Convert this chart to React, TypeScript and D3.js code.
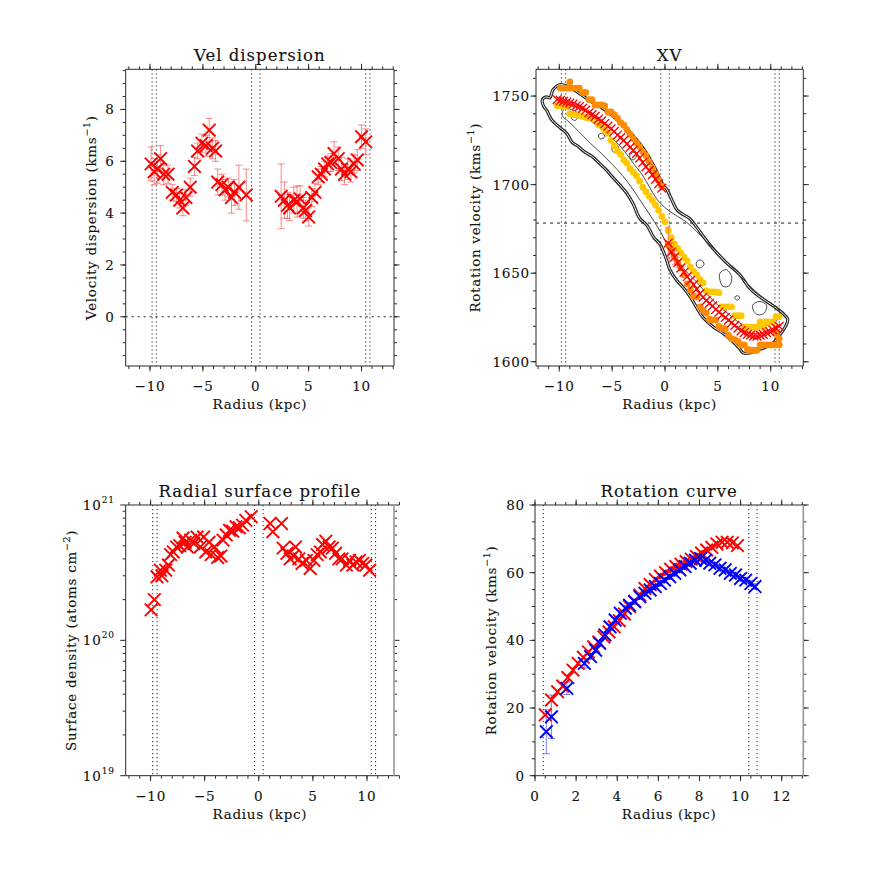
import React from 'react';
import * as d3 from 'd3';

const FONT = '"DejaVu Serif", "Liberation Serif", serif';

// ---------- Panel 1: velocity dispersion [radius kpc, sigma km/s, error] ----------
const dispLeft: number[][] = [
  [-9.9, 5.9, 0.65], [-9.6, 5.6, 0.5], [-9.3, 5.7, 0.55], [-9.0, 6.1, 0.5], [-8.7, 5.5, 0.4],
  [-8.3, 5.5, 0.35], [-7.9, 4.8, 0.3], [-7.5, 4.7, 0.25], [-7.2, 4.5, 0.3], [-6.9, 4.2, 0.3],
  [-6.6, 4.6, 0.3], [-6.2, 5.0, 0.35], [-5.8, 5.8, 0.35], [-5.5, 6.4, 0.3], [-5.1, 6.7, 0.35],
  [-4.7, 6.6, 0.4], [-4.4, 7.2, 0.45], [-4.1, 6.5, 0.4], [-3.8, 6.4, 0.4], [-3.6, 5.2, 0.5],
  [-3.2, 5.1, 0.4], [-2.9, 4.9, 0.4], [-2.6, 5.0, 0.35], [-2.3, 4.6, 0.6], [-2.0, 4.8, 0.5],
  [-1.6, 5.0, 0.85], [-0.9, 4.7, 1.0],
];
const dispRight: number[][] = [
  [2.4, 4.65, 1.25], [2.7, 4.5, 0.7], [3.0, 4.3, 0.5], [3.2, 4.2, 0.5], [3.6, 4.5, 0.5],
  [3.9, 4.45, 0.6], [4.2, 4.55, 0.5], [4.5, 4.2, 0.4], [4.7, 4.1, 0.4], [5.0, 3.85, 0.35],
  [5.3, 4.6, 0.35], [5.6, 4.8, 0.35], [5.9, 5.4, 0.3], [6.2, 5.5, 0.3], [6.5, 5.7, 0.3],
  [6.8, 5.9, 0.3], [7.1, 5.95, 0.35], [7.4, 6.3, 0.45], [7.8, 6.1, 0.45], [8.1, 5.7, 0.45],
  [8.4, 5.5, 0.4], [8.7, 5.7, 0.4], [9.0, 5.6, 0.4], [9.3, 5.9, 0.35], [9.6, 6.05, 0.4],
  [10.0, 6.95, 0.45], [10.4, 6.75, 0.5],
];

// ---------- Panel 2: XV diagram [radius kpc, velocity km/s, error] ----------
const xvRed: number[][] = [
  [-10.2, 1748, 1], [-9.9, 1747.5, 1], [-9.6, 1747, 1], [-9.3, 1746.5, 1], [-9.0, 1746, 1],
  [-8.7, 1745.5, 1], [-8.4, 1744.5, 1], [-8.1, 1744, 1], [-7.8, 1743, 1], [-7.5, 1742, 1],
  [-7.2, 1740.5, 1], [-6.9, 1739.5, 1], [-6.6, 1738.5, 1], [-6.3, 1737, 1], [-6.0, 1736, 1],
  [-5.7, 1734.5, 1], [-5.4, 1733, 1], [-5.1, 1731.5, 1], [-4.8, 1730, 1], [-4.5, 1728, 1],
  [-4.2, 1726.5, 1], [-3.9, 1725, 1], [-3.6, 1723, 1], [-3.3, 1721, 1], [-3.0, 1719.5, 1],
  [-2.7, 1717.5, 1], [-2.4, 1715, 1], [-2.1, 1712.5, 1], [-1.8, 1710, 1], [-1.5, 1708, 1],
  [-1.2, 1705.5, 1], [-0.9, 1703, 1], [-0.6, 1700.5, 1], [-0.3, 1698, 1],
  [0.3, 1667, 9], [0.6, 1662, 5], [0.9, 1659, 4], [1.2, 1656, 3], [1.5, 1653, 1.5],
  [1.8, 1650.5, 1], [2.1, 1648, 1], [2.4, 1646, 1], [2.7, 1643.5, 1], [3.0, 1641, 1],
  [3.3, 1638.5, 1], [3.6, 1636.5, 1], [3.9, 1634.5, 1], [4.2, 1633, 1], [4.5, 1631.5, 1],
  [4.8, 1629.5, 1], [5.1, 1628, 1], [5.4, 1626.5, 1], [5.7, 1625, 1], [6.0, 1623.5, 1],
  [6.3, 1622, 1], [6.6, 1620.5, 1], [6.9, 1619, 1], [7.2, 1617.5, 1], [7.5, 1616.5, 1],
  [7.8, 1615.5, 1], [8.1, 1615, 1], [8.4, 1614.5, 1], [8.7, 1614.5, 1], [9.0, 1615, 1],
  [9.3, 1615.5, 1], [9.6, 1616.5, 1], [9.9, 1617, 1], [10.2, 1618, 1], [10.5, 1619, 1],
  [10.8, 1620, 1],
];
const xvOrange: number[][] = [
  [-9.9, 1754.5], [-9.6, 1754.5], [-9.3, 1754.5], [-9.0, 1758], [-9.0, 1754.5], [-8.7, 1754.5],
  [-8.4, 1754.5], [-8.1, 1754.5], [-7.8, 1752], [-7.5, 1752], [-7.2, 1748], [-6.9, 1748],
  [-6.6, 1745], [-6.3, 1745], [-6.0, 1745], [-5.7, 1744.5], [-5.4, 1741], [-5.1, 1741],
  [-4.8, 1739.5], [-4.5, 1737.5], [-4.2, 1735], [-3.9, 1733.5], [-3.6, 1731], [-3.3, 1728.5],
  [-3.0, 1726], [-2.7, 1723.5], [-2.4, 1721.5], [-2.1, 1718.5], [-1.8, 1716.5], [-1.5, 1713],
  [-1.2, 1709.5], [-0.9, 1706], [-0.6, 1702.5], [-0.3, 1699],
  [0.3, 1666], [0.6, 1663], [0.9, 1659.5], [1.2, 1656], [1.5, 1653], [1.8, 1649],
  [2.1, 1644], [2.4, 1640.5], [2.7, 1637], [3.0, 1636.5], [3.3, 1631], [3.6, 1629],
  [3.9, 1627.5], [4.2, 1624], [4.5, 1623.5], [4.8, 1623.5], [5.1, 1620], [5.4, 1619],
  [5.7, 1618.5], [6.0, 1615], [6.3, 1613], [6.6, 1612.5], [6.9, 1611.5], [7.2, 1609.5],
  [7.5, 1609.5], [7.8, 1607], [8.1, 1606.5], [8.4, 1606.5], [8.7, 1606.5], [9.0, 1609.5],
  [9.3, 1609.5], [9.6, 1609.5], [9.9, 1609.5], [10.2, 1609.5], [10.5, 1609.5], [10.8, 1609.5],
  [10.5, 1616], [10.8, 1613],
];
const xvYellow: number[][] = [
  [-10.2, 1744.5], [-9.9, 1744.5], [-9.6, 1744.5], [-9.3, 1744], [-9.0, 1740], [-8.7, 1739.5],
  [-8.4, 1739.5], [-8.1, 1739], [-7.8, 1738.5], [-7.5, 1738], [-7.2, 1737.5], [-6.9, 1737.5],
  [-6.6, 1736.5], [-6.3, 1734], [-6.0, 1733], [-5.7, 1731], [-5.4, 1729], [-5.1, 1725],
  [-4.8, 1722], [-4.5, 1719], [-4.2, 1717], [-3.9, 1714], [-3.6, 1712], [-3.3, 1709],
  [-3.0, 1707], [-2.7, 1705], [-2.4, 1702], [-2.1, 1698.5], [-1.8, 1696], [-1.5, 1693.5],
  [-1.2, 1691], [-0.9, 1688.5], [-0.6, 1685.5], [-0.3, 1682], [0.0, 1679],
  [0.3, 1674], [0.6, 1670], [0.9, 1666.5], [1.2, 1664], [1.5, 1661.5], [1.8, 1659],
  [2.1, 1657], [2.4, 1653.5], [2.7, 1651], [3.0, 1649], [3.3, 1646.5], [3.6, 1644.5],
  [3.9, 1640], [4.2, 1639.5], [4.5, 1639.5], [4.8, 1639.5], [5.1, 1639], [5.4, 1631],
  [5.7, 1631], [6.0, 1631], [6.3, 1631], [6.6, 1626], [6.9, 1626], [7.2, 1626],
  [7.5, 1619.5], [7.8, 1619.5], [8.1, 1619.5], [8.4, 1619.5], [8.7, 1619.5], [9.0, 1622.5],
  [9.3, 1619.5], [9.6, 1622.5], [9.9, 1622.5], [10.2, 1622.5], [10.5, 1625.5], [10.8, 1625.5],
];
const contourOuter: number[][] = [
  [-10.6, 1753.5], [-10.25, 1755.5], [-9.9, 1756.5], [-9.0, 1755], [-8.0, 1751], [-7.0, 1747],
  [-6.0, 1743.5], [-5.0, 1739], [-4.0, 1734], [-3.0, 1727.5], [-2.0, 1720], [-1.0, 1710],
  [-0.3, 1701], [0.2, 1697], [0.6, 1692], [1.1, 1686], [1.6, 1683.5], [2.3, 1681],
  [3.0, 1676], [3.6, 1671], [4.6, 1663.5], [5.8, 1656], [7.1, 1649], [8.0, 1641.5],
  [9.0, 1636.5], [10.25, 1631.5], [11.2, 1627], [11.6, 1624], [11.4, 1620], [10.9, 1615.5],
  [10.2, 1610.5], [9.6, 1608.5], [8.7, 1606.5], [8.0, 1605], [7.4, 1605], [7.1, 1607],
  [6.5, 1611], [5.5, 1616], [4.6, 1619.5], [3.6, 1625], [3.0, 1630.5], [2.4, 1636.5],
  [1.7, 1642], [1.1, 1646], [0.5, 1651.5], [0.0, 1660], [-0.5, 1666.5], [-1.1, 1670.5],
  [-1.7, 1677], [-2.4, 1681], [-3.0, 1689], [-3.6, 1695], [-4.3, 1700], [-5.0, 1704.5],
  [-5.5, 1708], [-6.2, 1712], [-6.8, 1715.5], [-7.6, 1718.5], [-8.2, 1721.5], [-8.8, 1724],
  [-9.3, 1729], [-9.9, 1732], [-10.7, 1736.5], [-11.2, 1742], [-11.5, 1744.5], [-11.6, 1748],
  [-11.2, 1749.5], [-10.9, 1749],
];
const contourMid: number[][] = [
  [-9.5, 1743], [-8.0, 1740], [-6.8, 1735], [-5.8, 1730], [-4.6, 1724], [-3.6, 1717],
  [-3.0, 1712], [-2.2, 1706], [-1.5, 1699], [-0.8, 1692], [0.2, 1686], [1.2, 1682],
  [2.0, 1679], [3.0, 1673.5], [4.0, 1667.5], [5.0, 1661.5], [6.0, 1655.5], [7.0, 1649],
  [8.0, 1643], [9.0, 1637.5], [10.0, 1633], [10.8, 1629], [10.8, 1625], [10.3, 1622],
  [9.5, 1620.5], [8.5, 1619], [7.6, 1620], [6.8, 1623], [6.0, 1627], [5.0, 1632],
  [4.0, 1638], [3.0, 1645], [2.0, 1651], [1.0, 1658], [0.3, 1665], [-0.3, 1672],
  [-1.0, 1679], [-2.0, 1688], [-3.0, 1697], [-4.0, 1705], [-5.0, 1711.5], [-6.0, 1717.5],
  [-7.0, 1723], [-8.0, 1729], [-9.0, 1735], [-9.7, 1739],
];
const contourBlobs: number[][][] = [
  [[-8.8, 1739.5], [-8.4, 1740.2], [-8.25, 1738], [-8.5, 1736.3], [-8.8, 1737]],
  [[-5.0, 1721], [-4.6, 1722.5], [-4.35, 1720], [-4.6, 1718], [-4.95, 1718.8]],
  [[-3.3, 1717], [-2.9, 1718.2], [-2.7, 1716], [-3.0, 1714], [-3.3, 1715]],
  [[-6.3, 1728], [-5.9, 1729], [-5.7, 1727], [-6.1, 1725.8]],
  [[3.0, 1656.5], [3.4, 1657.5], [3.7, 1655], [3.3, 1653], [3.0, 1654]],
  [[5.2, 1650], [5.8, 1652], [6.3, 1648], [6.1, 1643], [5.5, 1642.5], [5.2, 1646]],
  [[8.3, 1632], [8.9, 1634], [9.6, 1632], [9.4, 1627.5], [8.8, 1626.5], [8.4, 1628.5]],
  [[6.6, 1636.5], [6.9, 1637.3], [7.05, 1635.8], [6.8, 1634.8]],
];
const systemicVel = 1678.3;

// ---------- Panel 3: radial surface profile [radius kpc, column density] ----------
const surfLeft: number[][] = [
  [-9.95, 1.68e20], [-9.65, 2.0e20], [-9.4, 2.95e20], [-9.1, 3.3e20], [-8.95, 3.0e20],
  [-8.6, 3.3e20], [-8.35, 3.6e20], [-8.15, 4.3e20], [-7.9, 4.5e20], [-7.6, 4.9e20],
  [-7.3, 5.0e20], [-7.0, 5.7e20], [-6.8, 5.3e20], [-6.6, 4.9e20], [-6.3, 5.5e20],
  [-6.0, 5.2e20], [-5.7, 5.8e20], [-5.4, 4.9e20], [-5.1, 5.8e20], [-4.9, 4.5e20],
  [-4.6, 5.3e20], [-4.4, 4.3e20], [-4.1, 4.9e20], [-3.8, 4.1e20], [-3.5, 4.2e20],
  [-3.3, 5.5e20], [-3.0, 6.0e20], [-2.7, 6.5e20], [-2.4, 6.4e20], [-2.1, 6.9e20],
  [-1.8, 6.8e20], [-1.5, 7.1e20], [-1.2, 7.7e20], [-0.7, 8.2e20],
];
const surfRight: number[][] = [
  [1.05, 7.3e20], [1.3, 6.35e20], [2.1, 7.3e20], [2.25, 4.8e20], [2.6, 4.4e20],
  [2.9, 4.0e20], [3.2, 4.2e20], [3.4, 4.9e20], [3.7, 4.0e20], [4.0, 3.7e20],
  [4.4, 3.9e20], [4.75, 3.4e20], [5.1, 3.9e20], [5.4, 4.3e20], [5.7, 4.5e20],
  [5.9, 5.1e20], [6.2, 5.4e20], [6.5, 4.9e20], [6.8, 4.8e20], [7.1, 4.4e20],
  [7.4, 4.0e20], [7.7, 4.0e20], [8.1, 3.6e20], [8.4, 3.9e20], [8.7, 3.6e20],
  [9.0, 3.8e20], [9.3, 3.9e20], [9.6, 3.7e20], [9.9, 3.6e20], [10.25, 3.3e20],
];

// ---------- Panel 4: rotation curve [radius kpc, velocity, error] ----------
const rotRed: number[][] = [
  [0.5, 18], [0.8, 22.4], [1.1, 24.8], [1.35, 26.5], [1.6, 29], [1.85, 31.2], [2.1, 33.2],
  [2.35, 35], [2.6, 36.6], [2.85, 38.1], [3.1, 39.5], [3.35, 41], [3.6, 42.5], [3.85, 44],
  [4.1, 45.8], [4.35, 47.8], [4.6, 50], [4.85, 51.6], [5.1, 53.4], [5.35, 55.3], [5.6, 56.5],
  [5.85, 58], [6.1, 59], [6.35, 60], [6.6, 61], [6.85, 61.8], [7.1, 62.5], [7.35, 63.3],
  [7.6, 64], [7.85, 64.8], [8.1, 65.8], [8.35, 66.7], [8.6, 67.5], [8.85, 68.5], [9.1, 69],
  [9.35, 69], [9.6, 68.8], [9.85, 68],
];
const rotBlue: number[][] = [
  [0.55, 13.0, 6.5], [0.8, 17.4, 6.4], [1.55, 25.8, 1.8], [2.4, 33.2, 1.4], [2.7, 35.2, 0.8],
  [2.95, 37.1, 0.8], [3.15, 39.1, 0.8], [3.4, 41.6, 0.8], [3.65, 44, 0.8], [3.9, 46, 0.8],
  [4.15, 48, 0.8], [4.4, 49.5, 0.8], [4.6, 50.4, 0.8], [4.85, 51.4, 0.8], [5.1, 52.9, 0.8],
  [5.35, 53.9, 0.8], [5.6, 54.9, 0.8], [5.85, 55.9, 0.8], [6.1, 56.8, 0.8], [6.3, 57.8, 0.8],
  [6.55, 58.8, 0.8], [6.8, 59.8, 0.8], [7.05, 60.8, 0.8], [7.3, 61.8, 0.8], [7.55, 62.8, 0.8],
  [7.8, 63.7, 0.8], [8.05, 64.2, 0.8], [8.3, 63.7, 0.8], [8.5, 62.8, 0.8], [8.75, 62.3, 0.8],
  [9.0, 61.3, 0.8], [9.25, 60.8, 0.8], [9.5, 59.8, 0.8], [9.75, 59.3, 0.8], [10.0, 58.3, 0.8],
  [10.25, 57.8, 0.8], [10.5, 56.8, 0.8], [10.7, 55.9, 0.8],
];

// reference radii (dotted lines)
const edgeLines = [-9.8, -9.4, -0.4, 0.4, 10.4, 10.8];
const rcEdgeLines = [0.4, 10.4, 10.8];

// tick values
const xTicksSym = [-10, -5, 0, 5, 10];
const yTicksDisp = [0, 2, 4, 6, 8];
const yTicksXV = [1600, 1650, 1700, 1750];
const yTicksSurf = [1e19, 1e20, 1e21];
const xTicksRC = [0, 2, 4, 6, 8, 10, 12];
const yTicksRC = [0, 20, 40, 60, 80];

const fmt = (d: number) => (d < 0 ? '\u2212' + Math.abs(d) : String(d));
const AX = '#2a2a2a';
const TXT_STROKE = 0.12;

type Box = { l: number; r: number; t: number; b: number };

function Cross({ x, y, s, color, w }: any) {
  return (
    <path
      d={`M${x - s},${y - s}L${x + s},${y + s}M${x - s},${y + s}L${x + s},${y - s}`}
      stroke={color}
      strokeWidth={w}
      fill="none"
    />
  );
}

function ErrBar({ x, y0, y1, color, cap }: any) {
  return (
    <g stroke={color} strokeWidth={1} fill="none">
      <line x1={x} x2={x} y1={y0} y2={y1} />
      <line x1={x - cap} x2={x + cap} y1={y0} y2={y0} />
      <line x1={x - cap} x2={x + cap} y1={y1} y2={y1} />
    </g>
  );
}

function Frame({ box, x, y, xMajor, xMinor, yMajor, yMinor, yLabelFn, labelGap, rightColor, title, yLabel, yLabelX }: any) {
  const M = 5.5, m = 3;
  const els: any[] = [];
  xMinor.forEach((v: number, i: number) => {
    const px = x(v);
    els.push(<line key={'xb' + i} x1={px} x2={px} y1={box.b} y2={box.b + m} />);
    els.push(<line key={'xt' + i} x1={px} x2={px} y1={box.t} y2={box.t - m} />);
  });
  xMajor.forEach((v: number, i: number) => {
    const px = x(v);
    els.push(<line key={'Xb' + i} x1={px} x2={px} y1={box.b} y2={box.b + M} />);
    els.push(<line key={'Xt' + i} x1={px} x2={px} y1={box.t} y2={box.t - M} />);
  });
  yMinor.forEach((v: number, i: number) => {
    const py = y(v);
    els.push(<line key={'yl' + i} x1={box.l} x2={box.l - m} y1={py} y2={py} />);
    els.push(<line key={'yr' + i} x1={box.r} x2={box.r + m} y1={py} y2={py} />);
  });
  yMajor.forEach((v: number, i: number) => {
    const py = y(v);
    els.push(<line key={'Yl' + i} x1={box.l} x2={box.l - M} y1={py} y2={py} />);
    els.push(<line key={'Yr' + i} x1={box.r} x2={box.r + M} y1={py} y2={py} />);
  });
  const cy = (box.t + box.b) / 2;
  return (
    <g fontFamily={FONT} fill="#111">
      <g stroke={AX} strokeWidth={1}>
        {els}
        <line x1={box.l} x2={box.r} y1={box.b} y2={box.b} />
        <line x1={box.l} x2={box.r} y1={box.t} y2={box.t} />
        <line x1={box.l} x2={box.l} y1={box.t} y2={box.b} />
      </g>
      <line x1={box.r} x2={box.r} y1={box.t} y2={box.b} stroke={rightColor} strokeWidth={rightColor === AX ? 1 : 1.6} />
      <g stroke="#111" strokeWidth={TXT_STROKE}>
        {xMajor.map((v: number, i: number) => (
          <text key={'xl' + i} x={x(v)} y={box.b + 25} textAnchor="middle" fontSize={13.5} letterSpacing={0.8}>
            {fmt(v)}
          </text>
        ))}
        {yMajor.map((v: number, i: number) => (
          <text key={'yl' + i} x={box.l - labelGap} y={y(v) + 5} textAnchor="end" fontSize={13.5} letterSpacing={0.8}>
            {yLabelFn(v)}
          </text>
        ))}
        <text x={(box.l + box.r) / 2} y={box.t - 8} textAnchor="middle" fontSize={16.5} letterSpacing={1}>
          {title}
        </text>
        <text x={(box.l + box.r) / 2} y={box.b + 43} textAnchor="middle" fontSize={13.5} letterSpacing={0.7}>
          Radius (kpc)
        </text>
        <text transform={`translate(${yLabelX + 5},${cy}) rotate(-90)`} textAnchor="middle" fontSize={13.5} letterSpacing={0.7}>
          {yLabel}
        </text>
      </g>
    </g>
  );
}

function VLines({ vals, x, box, dash }: any) {
  return (
    <g stroke="#222" strokeWidth={1} strokeDasharray={dash}>
      {vals.map((v: number, i: number) => (
        <line key={i} x1={x(v)} x2={x(v)} y1={box.t} y2={box.b} />
      ))}
    </g>
  );
}

export default function App() {
  // Panel boxes (layout)
  const B1: Box = { l: 125.7, r: 394, t: 69.3, b: 366 };
  const B2: Box = { l: 536, r: 803.3, t: 69.3, b: 366 };
  const B3: Box = { l: 125.7, r: 394, t: 505, b: 775.7 };
  const B4: Box = { l: 535, r: 803.3, t: 505, b: 775.7 };

  const x1 = d3.scaleLinear().domain([-12.3, 13.07]).range([B1.l, B1.r]);
  const y1 = d3.scaleLinear().domain([-1.9, 9.55]).range([B1.b, B1.t]);
  const x2 = d3.scaleLinear().domain([-12.2, 13.08]).range([B2.l, B2.r]);
  const y2 = d3.scaleLinear().domain([1597.6, 1765.1]).range([B2.b, B2.t]);
  const x3 = d3.scaleLinear().domain([-12.3, 12.5]).range([B3.l, B3.r]);
  const y3 = d3.scaleLog().domain([1e19, 1e21]).range([B3.b, B3.t]);
  const x4 = d3.scaleLinear().domain([0, 13.05]).range([B4.l, B4.r]);
  const y4 = d3.scaleLinear().domain([0, 80]).range([B4.b, B4.t]);

  const minorSym = d3.range(-12, 14, 1);
  const logMinor: number[] = [];
  [1e19, 1e20].forEach((d) => d3.range(2, 10).forEach((k) => logMinor.push(k * d)));

  const lineXV = d3
    .line<number[]>()
    .x((d) => x2(d[0]))
    .y((d) => y2(d[1]))
    .curve(d3.curveCatmullRomClosed.alpha(0.5));

  const supLabel = (base: string, sup: string, tail: string) => (
    <>
      {base}
      <tspan dy={-6} fontSize={9.5}>{sup}</tspan>
      <tspan dy={6}>{tail}</tspan>
    </>
  );

  const RED = '#ff0000';
  const RED_ERR = 'rgba(255,60,60,0.6)';
  const BLUE = '#0000ff';
  const BLUE_ERR = 'rgba(70,70,255,0.7)';
  const ORANGE = '#ff8c00';
  const YELLOW = '#ffc800';

  return (
    <svg width={872} height={872} style={{ position: 'absolute', left: 0, top: 0, background: '#fff' }}>
      <rect x={0} y={0} width={872} height={872} fill="#fff" />

      {/* ---------------- Panel 1 ---------------- */}
      <VLines vals={edgeLines} x={x1} box={B1} dash="1.2 2.8" />
      <line x1={B1.l} x2={B1.r} y1={y1(0)} y2={y1(0)} stroke="#222" strokeDasharray="2 4" />
      {[...dispLeft, ...dispRight].map((d, i) => (
        <ErrBar key={'e1' + i} x={x1(d[0])} y0={y1(d[1] - d[2])} y1={y1(d[1] + d[2])} color={RED_ERR} cap={3.5} />
      ))}
      {[...dispLeft, ...dispRight].map((d, i) => (
        <Cross key={'c1' + i} x={x1(d[0])} y={y1(d[1])} s={6.3} color={RED} w={1.9} />
      ))}
      <Frame
        box={B1} x={x1} y={y1}
        xMajor={xTicksSym} xMinor={minorSym}
        yMajor={yTicksDisp} yMinor={d3.range(-1.5, 9.6, 0.5)}
        yLabelFn={fmt} labelGap={11} rightColor={AX}
        title="Vel dispersion"
        yLabel={supLabel('Velocity dispersion (kms', '\u22121', ')')}
        yLabelX={91}
      />

      {/* ---------------- Panel 2 ---------------- */}
      <g fill="none">
        <path d={lineXV(contourOuter) || ''} stroke="#222" strokeWidth={3.2} />
        <path d={lineXV(contourOuter) || ''} stroke="#fff" strokeWidth={1.0} />
        <path d={lineXV(contourMid) || ''} stroke="#333" strokeWidth={0.9} />
        {contourBlobs.map((b, i) => (
          <path key={'b' + i} d={lineXV(b) || ''} stroke="#333" strokeWidth={0.9} />
        ))}
      </g>
      <VLines vals={edgeLines} x={x2} box={B2} dash="1.2 2.8" />
      <line x1={B2.l} x2={B2.r} y1={y2(systemicVel)} y2={y2(systemicVel)} stroke="#222" strokeDasharray="3 4" />
      {xvYellow.map((d, i) => (
        <circle key={'yd' + i} cx={x2(d[0])} cy={y2(d[1])} r={3.4} fill={YELLOW} />
      ))}
      {xvOrange.map((d, i) => (
        <circle key={'od' + i} cx={x2(d[0])} cy={y2(d[1])} r={3.4} fill={ORANGE} />
      ))}
      {xvRed.map((d, i) => (
        d[2] > 1.2 ? (
          <ErrBar key={'e2' + i} x={x2(d[0])} y0={y2(d[1] - d[2])} y1={y2(d[1] + d[2])} color={RED_ERR} cap={2.5} />
        ) : null
      ))}
      {xvRed.map((d, i) => (
        <Cross key={'c2' + i} x={x2(d[0])} y={y2(d[1])} s={4.4} color={RED} w={1.35} />
      ))}
      <Frame
        box={B2} x={x2} y={y2}
        xMajor={xTicksSym} xMinor={minorSym}
        yMajor={yTicksXV} yMinor={d3.range(1600, 1770, 10)}
        yLabelFn={fmt} labelGap={6} rightColor={AX}
        title="XV"
        yLabel={supLabel('Rotation velocity (kms', '\u22121', ')')}
        yLabelX={475}
      />

      {/* ---------------- Panel 3 ---------------- */}
      <VLines vals={edgeLines} x={x3} box={B3} dash="1.2 2.8" />
      {[...surfLeft, ...surfRight].map((d, i) => (
        <Cross key={'c3' + i} x={x3(d[0])} y={y3(d[1])} s={6.3} color={RED} w={1.9} />
      ))}
      <Frame
        box={B3} x={x3} y={y3}
        xMajor={xTicksSym} xMinor={minorSym}
        yMajor={yTicksSurf} yMinor={logMinor}
        yLabelFn={(v: number) => (
          <>
            10<tspan dy={-7} fontSize={9}>{Math.round(Math.log10(v))}</tspan>
          </>
        )}
        labelGap={11} rightColor="#999"
        title="Radial surface profile"
        yLabel={supLabel('Surface density (atoms cm', '\u22122', ')')}
        yLabelX={71}
      />

      {/* ---------------- Panel 4 ---------------- */}
      <VLines vals={rcEdgeLines} x={x4} box={B4} dash="1.2 2.8" />
      {rotBlue.map((d, i) => (
        <ErrBar key={'e4' + i} x={x4(d[0])} y0={y4(d[1] - d[2])} y1={y4(d[1] + d[2])} color={BLUE_ERR} cap={3.5} />
      ))}
      {rotRed.map((d, i) => (
        <Cross key={'c4r' + i} x={x4(d[0])} y={y4(d[1])} s={6.3} color={RED} w={1.9} />
      ))}
      {rotBlue.map((d, i) => (
        <Cross key={'c4b' + i} x={x4(d[0])} y={y4(d[1])} s={6.3} color={BLUE} w={1.9} />
      ))}
      <Frame
        box={B4} x={x4} y={y4}
        xMajor={xTicksRC} xMinor={d3.range(0, 13.1, 0.5)}
        yMajor={yTicksRC} yMinor={d3.range(0, 81, 5)}
        yLabelFn={fmt} labelGap={10} rightColor="#999"
        title="Rotation curve"
        yLabel={supLabel('Rotation velocity (kms', '\u22121', ')')}
        yLabelX={491}
      />
    </svg>
  );
}
